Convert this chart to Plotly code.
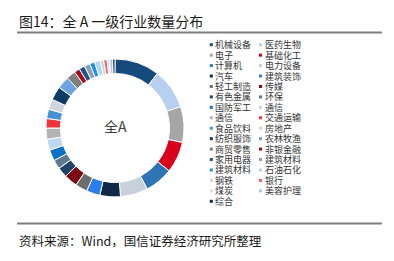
import plotly.graph_objects as go

W, H = 394, 261

industries = ["机械设备", "医药生物", "电子", "基础化工", "计算机", "电力设备", "汽车", "建筑装饰",
              "轻工制造", "传媒", "有色金属", "环保", "国防军工", "通信", "通信", "交通运输",
              "食品饮料", "房地产", "纺织服饰", "农林牧渔", "商贸零售", "非银金融", "家用电器", "建筑材料",
              "建筑材料", "石油石化", "钢铁", "银行", "煤炭", "美容护理", "综合"]
counts = [558, 503, 443, 386, 350, 342, 255, 169,
          150, 165, 127, 113, 138, 135, 140, 118,
          115, 128, 169, 152, 116, 69, 72, 71,
          62, 71, 43, 41, 32, 37, 29]
colors = ["#174a7c", "#b7cff0", "#a6a6a6", "#d9001b", "#2e75b6", "#c8d0dc", "#0f2a47", "#2b7de9",
          "#6e6e6e", "#7c0a14", "#1f4469", "#5f7891", "#0a72c4", "#bdd7f2", "#b3b3b3", "#f0353d",
          "#4a90d4", "#d0d6de", "#0d3a66", "#6ea3e3", "#7f7f7f", "#a50d1a", "#24528a", "#8ea0b6",
          "#1d8ff0", "#b3d4f4", "#d4d4d4", "#f0606a", "#d8dde6", "#a8c8ec", "#0d2a4a"]

title_text = "图14：全 A 一级行业数量分布"
center_text = "全A"
source_text = "资料来源：Wind，国信证券经济研究所整理"

FONT = "Noto Sans CJK SC, sans-serif"
LEGEND_FONT = "Liberation Sans, Noto Sans CJK SC, sans-serif"

# unique labels so duplicated names are not merged
labels = [name + "\u200b" * i for i, name in enumerate(industries)]

def px(x):
    return x / W

def py(y):
    return 1 - y / H

cx, cy, R = 115, 128, 69

fig = go.Figure(go.Pie(
    labels=labels,
    values=counts,
    sort=False,
    direction="clockwise",
    rotation=0,
    hole=0.79,
    textinfo="none",
    hoverinfo="label+value",
    marker=dict(colors=colors, line=dict(color="white", width=1)),
    domain=dict(x=[px(cx - R), px(cx + R)], y=[py(cy + R), py(cy - R)]),
    showlegend=False,
))

annotations = [
    dict(text=title_text, x=px(17), y=py(21), xref="paper", yref="paper",
         xanchor="left", yanchor="middle", showarrow=False,
         font=dict(family=FONT, size=14, color="#1a1a1a")),
    dict(text=source_text, x=px(17), y=py(240), xref="paper", yref="paper",
         xanchor="left", yanchor="middle", showarrow=False,
         font=dict(family=FONT, size=12.5, color="#1a1a1a")),
    dict(text=center_text, x=px(cx), y=py(126), xref="paper", yref="paper",
         xanchor="center", yanchor="middle", showarrow=False,
         font=dict(family=FONT, size=14, color="#404040")),
]

shapes = [
    dict(type="line", xref="paper", yref="paper", x0=px(17), x1=px(382), y0=py(32.5), y1=py(32.5),
         line=dict(color="#7f7f7f", width=2)),
    dict(type="line", xref="paper", yref="paper", x0=px(17), x1=px(382), y0=py(223.5), y1=py(223.5),
         line=dict(color="#7f7f7f", width=2)),
]

# manual two-column legend, filled row by row
row0, row_gap = 44.7, 10.44
col_marker = [211.3, 260.5]
for k, (name, col) in enumerate(zip(industries, colors)):
    r, c = divmod(k, 2)
    yy = row0 + r * row_gap
    mx = col_marker[c]
    shapes.append(dict(type="rect", xref="paper", yref="paper",
                       x0=px(mx - 1.5), x1=px(mx + 1.5), y0=py(yy + 1.5), y1=py(yy - 1.5),
                       fillcolor=col, line=dict(width=0)))
    annotations.append(dict(text=name, x=px(mx + 3), y=py(yy), xref="paper", yref="paper",
                            xanchor="left", yanchor="middle", showarrow=False, borderpad=0,
                            font=dict(family=LEGEND_FONT, size=9, color="#333333")))

fig.update_layout(
    width=W, height=H,
    margin=dict(l=0, r=0, t=0, b=0),
    paper_bgcolor="white", plot_bgcolor="white",
    annotations=annotations, shapes=shapes,
)

fig.write_html("out.html", config={"displayModeBar": False})
